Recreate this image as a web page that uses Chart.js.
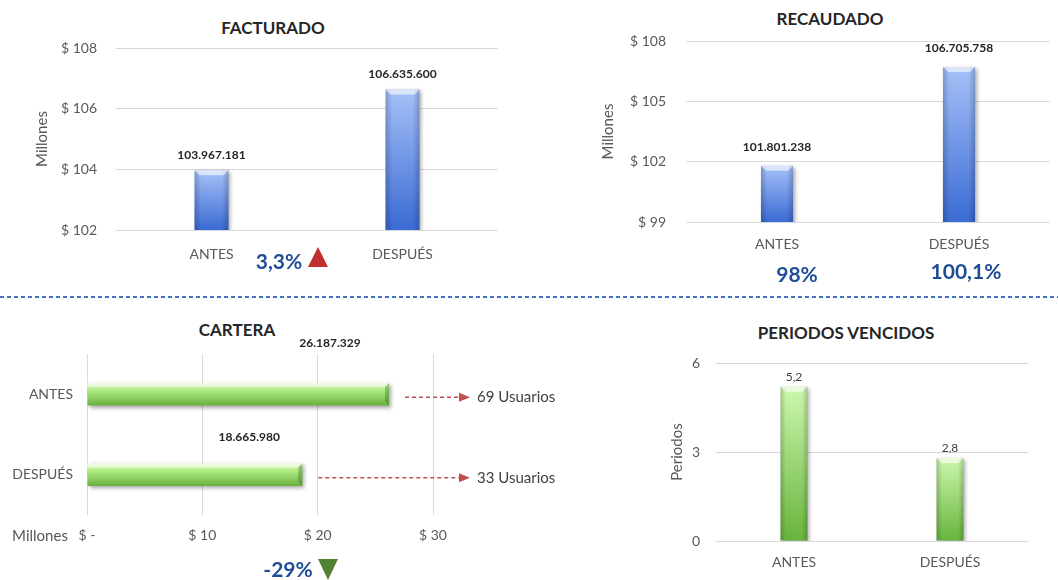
<!DOCTYPE html>
<html>
<head>
<meta charset="utf-8">
<script src="https://cdn.jsdelivr.net/npm/chart.js@4.4.1/dist/chart.umd.min.js"></script>
<style>
  body { margin: 0; background: #fff; width: 1058px; height: 580px; overflow: hidden; position: relative; font-family: Lato, sans-serif; }
  canvas { position: absolute; }
  .t { position: absolute; transform: translate(-50%, -50%); white-space: nowrap; }
  .titulo { font-weight: bold; font-size: 17px; color: #262626; }
  .pct { font-weight: bold; font-size: 21px; color: #1f4e99; }
  .sep { position: absolute; left: 0; top: 296px; width: 1058px; height: 2px;
         background: repeating-linear-gradient(90deg, #4472c4 0 4px, transparent 4px 7px); }
  svg { position: absolute; }
</style>
</head>
<body>
<div class="t titulo" style="left:273px; top:27px">FACTURADO</div>
<div class="t titulo" style="left:830px; top:18px">RECAUDADO</div>
<div class="t titulo" style="left:237px; top:329px">CARTERA</div>
<div class="t titulo" style="left:846px; top:332px">PERIODOS VENCIDOS</div>

<canvas id="c1" width="530" height="295" style="left:0; top:0"></canvas>
<canvas id="c2" width="528" height="295" style="left:530px; top:0"></canvas>
<canvas id="c3" width="580" height="280" style="left:0; top:300px"></canvas>
<canvas id="c4" width="478" height="280" style="left:580px; top:300px"></canvas>

<div class="sep"></div>

<div class="t pct" id="pFact" style="left:279px; top:260px"></div>
<svg style="left:308px; top:247px" width="22" height="22"><polygon points="10,0 20,20 0,20" fill="#c0302f"/></svg>
<div class="t pct" id="pRec0" style="left:797px; top:273px"></div>
<div class="t pct" id="pRec1" style="left:966px; top:270px"></div>
<div class="t pct" id="pCart" style="left:288px; top:568px"></div>
<svg style="left:318px; top:559px" width="22" height="22"><polygon points="0,0 20,0 10,21" fill="#548235"/></svg>
<div class="t" style="left:40px; top:535px; font-size:15px; color:#595959">Millones</div>

<script>
const categorias = ['ANTES', 'DESPUÉS'];
const facturado = [103967181, 106635600];
const recaudado = [101801238, 106705758];
const cartera = [26187329, 18665980];
const usuarios = [69, 33];
const periodos = [5.2, 2.8];

const ejeFacturado = [102, 108, 2];   // min, max, paso (millones)
const ejeRecaudado = [99, 108, 3];
const ejeCartera = [0, 30, 10];
const ejePeriodos = [0, 6, 3];

const variacionFacturado = '3,3%';
const cumplimientoRecaudo = ['98%', '100,1%'];
const variacionCartera = '-29%';

document.getElementById('pFact').textContent = variacionFacturado;
document.getElementById('pRec0').textContent = cumplimientoRecaudo[0];
document.getElementById('pRec1').textContent = cumplimientoRecaudo[1];
document.getElementById('pCart').textContent = variacionCartera;

Chart.defaults.font.family = 'Lato, sans-serif';
Chart.defaults.color = '#595959';
Chart.defaults.animation = false;

const miles = n => String(n).replace(/\B(?=(\d{3})+(?!\d))/g, '.');
const GRID = '#d9d9d9';

// degradado por barra, como el relleno de Excel
function relleno(claro, oscuro) {
  return c => {
    if (c.type !== 'data') return oscuro;
    const ch = c.chart;
    const ys = ch.scales.y;
    if (!ys || !isFinite(ys.bottom) || !isFinite(ys.height) || ys.height <= 0) return oscuro;
    const horiz = ch.options.indexAxis === 'y';
    let a, b;
    if (horiz) {
      const cy = ys.getPixelForValue(c.dataIndex);
      const t = ys.height / ch.data.labels.length * c.dataset.barPercentage;
      a = cy - t / 2; b = cy + t / 2;
    } else {
      a = ys.getPixelForValue(c.parsed.y); b = ys.bottom;
    }
    if (!isFinite(a) || !isFinite(b)) return oscuro;
    const g = ch.ctx.createLinearGradient(0, a, 0, b);
    if (horiz) {
      g.addColorStop(0, '#e4fcc8');
      g.addColorStop(0.3, claro);
    } else {
      g.addColorStop(0, claro);
    }
    g.addColorStop(1, oscuro);
    return g;
  };
}

const barrasExcel = {
  id: 'barrasExcel',
  beforeDatasetsDraw(chart) {
    const ctx = chart.ctx;
    ctx.save();
    ctx.shadowColor = 'rgba(0,0,0,0.35)';
    ctx.shadowBlur = 4;
    ctx.shadowOffsetX = 2;
    ctx.shadowOffsetY = 2;
  },
  afterDatasetsDraw(chart, args, opts) {
    const ctx = chart.ctx;
    ctx.restore();
    const area = chart.chartArea;
    const horiz = chart.options.indexAxis === 'y';
    chart.getDatasetMeta(0).data.forEach((bar, i) => {
      const p = bar.getProps(['x', 'y', 'base', 'width', 'height'], true);
      let l, r, t, b;
      if (horiz) {
        t = p.y - p.height / 2; b = p.y + p.height / 2;
        l = Math.max(Math.min(p.x, p.base), area.left); r = Math.max(p.x, p.base);
      } else {
        l = p.x - p.width / 2; r = p.x + p.width / 2;
        t = Math.min(p.y, p.base); b = Math.min(Math.max(p.y, p.base), area.bottom);
      }
      ctx.save();
      if (horiz) {
        ctx.fillStyle = 'rgba(255,255,255,0.55)';
        ctx.beginPath();
        ctx.moveTo(l, t); ctx.lineTo(r, t); ctx.lineTo(r - 4, t + 4); ctx.lineTo(l, t + 4);
        ctx.closePath(); ctx.fill();
        ctx.fillStyle = 'rgba(50,100,20,0.35)';
        ctx.beginPath();
        ctx.moveTo(r, t); ctx.lineTo(r, b); ctx.lineTo(r - 4, b - 4); ctx.lineTo(r - 4, t + 4);
        ctx.closePath(); ctx.fill();
      } else {
        const g = ctx.createLinearGradient(l, 0, r, 0);
        g.addColorStop(0, 'rgba(0,0,30,0.2)');
        g.addColorStop(0.2, 'rgba(0,0,0,0)');
        g.addColorStop(0.8, 'rgba(0,0,0,0)');
        g.addColorStop(1, 'rgba(0,0,30,0.2)');
        ctx.fillStyle = g;
        ctx.fillRect(l, t, r - l, b - t);
        ctx.fillStyle = 'rgba(255,255,255,0.6)';
        ctx.beginPath();
        ctx.moveTo(l, t); ctx.lineTo(r, t); ctx.lineTo(r - 5, t + 5); ctx.lineTo(l + 5, t + 5);
        ctx.closePath(); ctx.fill();
      }
      // etiqueta de datos
      if (opts.labels) {
        ctx.font = opts.font;
        ctx.fillStyle = opts.color || '#262626';
        ctx.textAlign = 'center';
        ctx.textBaseline = 'middle';
        if (horiz) {
          const o = opts.offsets[i];
          ctx.fillText(opts.labels[i], r + o[0], t + o[1]);
        } else {
          ctx.fillText(opts.labels[i], p.x, t - opts.offset);
        }
      }
      ctx.restore();
    });
  }
};

const flechasUsuarios = {
  id: 'flechasUsuarios',
  afterDraw(chart) {
    const ctx = chart.ctx;
    const fin = chart.chartArea.right + 37;
    chart.getDatasetMeta(0).data.forEach((bar, i) => {
      const y = bar.y + 3;
      const x0 = bar.x + 16;
      ctx.save();
      ctx.strokeStyle = '#c0504d';
      ctx.fillStyle = '#c0504d';
      ctx.lineWidth = 1.3;
      ctx.setLineDash([4, 3]);
      ctx.beginPath();
      ctx.moveTo(x0, y); ctx.lineTo(fin - 9, y);
      ctx.stroke();
      ctx.setLineDash([]);
      ctx.beginPath();
      ctx.moveTo(fin, y); ctx.lineTo(fin - 11, y - 4.5); ctx.lineTo(fin - 11, y + 4.5);
      ctx.closePath(); ctx.fill();
      ctx.font = '15px Lato, sans-serif';
      ctx.fillStyle = '#404040';
      ctx.textAlign = 'left';
      ctx.textBaseline = 'middle';
      ctx.fillText(usuarios[i] + ' Usuarios', fin + 7, y);
      ctx.restore();
    });
  }
};

function ejeY(rango, ancho, pad, titulo, tituloPad, fmt) {
  return {
    min: rango[0], max: rango[1],
    ticks: { stepSize: rango[2], padding: pad, font: { size: 14 }, callback: fmt },
    grid: { color: GRID, drawTicks: false },
    border: { display: false },
    title: { display: true, text: titulo, font: { size: 15 }, padding: { top: tituloPad } },
    afterFit: s => { s.width = ancho; }
  };
}
function ejeX(alto, pad) {
  return {
    grid: { display: false, drawTicks: false },
    border: { display: false },
    ticks: { padding: pad, font: { size: 14 } },
    afterFit: s => { s.height = alto; }
  };
}

// FACTURADO
new Chart(document.getElementById('c1'), {
  type: 'bar',
  data: {
    labels: categorias,
    datasets: [{
      data: facturado.map(v => v / 1e6),
      backgroundColor: relleno('#a6c1f8', '#3a6bd3'),
      barPercentage: 0.178, categoryPercentage: 1
    }]
  },
  options: {
    responsive: false,
    layout: { padding: { left: 0, top: 48, right: 32, bottom: 0 } },
    plugins: {
      legend: { display: false }, tooltip: { enabled: false },
      barrasExcel: { labels: facturado.map(miles), offset: 15, font: 'bold 12px Lato, sans-serif' }
    },
    scales: {
      x: ejeX(65, 15.6),
      y: ejeY(ejeFacturado, 116, 19, 'Millones', 33, v => '$ ' + v)
    }
  },
  plugins: [barrasExcel]
});

// RECAUDADO
new Chart(document.getElementById('c2'), {
  type: 'bar',
  data: {
    labels: categorias,
    datasets: [{
      data: recaudado.map(v => v / 1e6),
      backgroundColor: relleno('#a6c1f8', '#3a6bd3'),
      barPercentage: 0.176, categoryPercentage: 1
    }]
  },
  options: {
    responsive: false,
    layout: { padding: { left: 0, top: 41, right: 8, bottom: 0 } },
    plugins: {
      legend: { display: false }, tooltip: { enabled: false },
      barrasExcel: { labels: recaudado.map(miles), offset: 19, font: 'bold 12px Lato, sans-serif' }
    },
    scales: {
      x: ejeX(73, 13.6),
      y: ejeY(ejeRecaudado, 156, 20, 'Millones', 69, v => '$ ' + v)
    }
  },
  plugins: [barrasExcel]
});

// CARTERA
new Chart(document.getElementById('c3'), {
  type: 'bar',
  data: {
    labels: categorias,
    datasets: [{
      data: cartera.map(v => v / 1e6),
      backgroundColor: relleno('#b2ec86', '#68b03e'),
      barPercentage: 0.28, categoryPercentage: 1
    }]
  },
  options: {
    indexAxis: 'y',
    responsive: false,
    layout: { padding: { left: 0, top: 54, right: 147, bottom: 0 } },
    plugins: {
      legend: { display: false }, tooltip: { enabled: false },
      barrasExcel: { labels: cartera.map(miles), offsets: [[-59, -40], [-53, -26]], font: 'bold 12px Lato, sans-serif' }
    },
    scales: {
      x: {
        min: ejeCartera[0], max: ejeCartera[1],
        ticks: { stepSize: ejeCartera[2], padding: 11.6, font: { size: 14 }, callback: v => v === 0 ? '$ -' : '$ ' + v },
        grid: { color: GRID, drawTicks: false },
        border: { display: false },
        afterFit: s => { s.height = 65; }
      },
      y: {
        grid: { display: false, drawTicks: false },
        border: { display: false },
        ticks: { padding: 14, font: { size: 14 } },
        afterFit: s => { s.width = 87; }
      }
    }
  },
  plugins: [barrasExcel, flechasUsuarios]
});

// PERIODOS VENCIDOS
new Chart(document.getElementById('c4'), {
  type: 'bar',
  data: {
    labels: categorias,
    datasets: [{
      data: periodos,
      backgroundColor: relleno('#cdf7ad', '#67b43c'),
      barPercentage: 0.173, categoryPercentage: 1
    }]
  },
  options: {
    responsive: false,
    layout: { padding: { left: 0, top: 63, right: 30, bottom: 0 } },
    plugins: {
      legend: { display: false }, tooltip: { enabled: false },
      barrasExcel: { labels: periodos.map(v => String(v).replace('.', ',')), offset: 10, font: '12px Lato, sans-serif', color: '#404040' }
    },
    scales: {
      x: ejeX(39, 12.6),
      y: ejeY(ejePeriodos, 136, 16, 'Periodos', 88, v => v)
    }
  },
  plugins: [barrasExcel]
});
</script>
</body>
</html>
